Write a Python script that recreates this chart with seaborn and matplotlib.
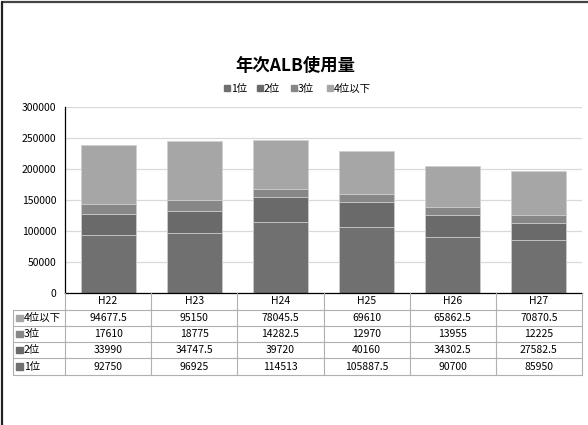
import matplotlib
matplotlib.use('Agg')
import matplotlib.pyplot as plt
from matplotlib.lines import Line2D
from matplotlib.patches import Rectangle
import seaborn as sns
import pandas as pd
import numpy as np

years = ["H22", "H23", "H24", "H25", "H26", "H27"]
rank1 = [92750, 96925, 114513, 105887.5, 90700, 85950]
rank2 = [33990, 34747.5, 39720, 40160, 34302.5, 27582.5]
rank3 = [17610, 18775, 14282.5, 12970, 13955, 12225]
rank4 = [94677.5, 95150, 78045.5, 69610, 65862.5, 70870.5]
series_names = ["1位", "2位", "3位", "4位以下"]
colors = ["#707070", "#6a6a6a", "#878787", "#a6a6a6"]

W, H = 588, 425

sns.set_style("white")
plt.rcParams['font.family'] = ['Noto Sans CJK JP', 'DejaVu Sans']
plt.rcParams['text.color'] = 'black'
plt.rcParams['ytick.color'] = 'black'

fig = plt.figure(figsize=(W / 100, H / 100), dpi=100)

# main plot area (pixel box -> figure fraction)
x0, x1, y0, y1 = 65, 582, 107, 293
ax = fig.add_axes([x0 / W, 1 - y1 / H, (x1 - x0) / W, (y1 - y0) / H])

df = pd.DataFrame({"year": years, "1位": rank1, "2位": rank2, "3位": rank3, "4位以下": rank4})
cum = df[series_names].cumsum(axis=1)

# draw from the tallest stack down so the lower layers cover the upper ones
for name, col in reversed(list(zip(series_names, colors))):
    sns.barplot(x=df["year"], y=cum[name], color=col, width=0.64, ax=ax,
                edgecolor="#d0d0d0", linewidth=0.6, saturation=1)

ax.set_ylim(0, 300000)
ax.set_xlim(-0.5, len(years) - 0.5)
ax.set_yticks(np.arange(0, 300001, 50000))
ax.set_yticklabels([str(v) for v in range(0, 300001, 50000)], fontsize=7.5)
ax.set_xticks([])
ax.set_xlabel("")
ax.set_ylabel("")
ax.yaxis.grid(True, color="#d9d9d9", linewidth=0.9)
ax.set_axisbelow(True)
for s in ["top", "right"]:
    ax.spines[s].set_visible(False)
for s in ["left", "bottom"]:
    ax.spines[s].set_color("black")
    ax.spines[s].set_linewidth(0.9)
ax.tick_params(axis="y", length=0, pad=6)

# overlay in pixel coordinates for title, legend, table and frame
ov = fig.add_axes([0, 0, 1, 1])
ov.set_xlim(0, W)
ov.set_ylim(H, 0)
ov.axis("off")

# outer frame (top and left edges visible)
ov.add_line(Line2D([2, W], [1.5, 1.5], color="#444444", linewidth=1.6))
ov.add_line(Line2D([2, 2], [1.5, H], color="#222222", linewidth=1.6))

ov.text(295, 66, "年次ALB使用量", ha="center", va="center", fontsize=12.5, fontweight="bold")

# top legend
leg_x = [224, 257, 291, 327]
for lx, name, col in zip(leg_x, series_names, colors):
    ov.add_patch(Rectangle((lx, 85), 6, 6, color=col))
    ov.text(lx + 7, 88.5, name, ha="left", va="center", fontsize=7.5)


def fmt(v):
    return str(int(v)) if float(v).is_integer() else str(v)


# data table
col_w = (x1 - x0) / len(years)
row_y = [293, 310, 326, 342, 358, 375]
line_col = "#b0b0b0"
for yy in row_y[1:]:
    ov.add_line(Line2D([13, x1], [yy, yy], color=line_col, linewidth=0.8))
ov.add_line(Line2D([13, 13], [row_y[1], row_y[-1]], color=line_col, linewidth=0.8))
for i in range(len(years) + 1):
    xx = x0 + i * col_w
    ov.add_line(Line2D([xx, xx], [row_y[0], row_y[-1]], color=line_col, linewidth=0.8))

for i, yr in enumerate(years):
    ov.text(x0 + (i + 0.5) * col_w, (row_y[0] + row_y[1]) / 2, yr,
            ha="center", va="center", fontsize=7.5)

table_rows = [("4位以下", rank4, colors[3]), ("3位", rank3, colors[2]),
              ("2位", rank2, colors[1]), ("1位", rank1, colors[0])]
for r, (name, vals, col) in enumerate(table_rows):
    cy = (row_y[r + 1] + row_y[r + 2]) / 2
    ov.add_patch(Rectangle((16, cy - 3.5), 6.5, 6.5, color=col))
    ov.text(24, cy, name, ha="left", va="center", fontsize=7.5)
    for i, v in enumerate(vals):
        ov.text(x0 + (i + 0.5) * col_w, cy, fmt(v), ha="center", va="center", fontsize=7.5)

fig.savefig("out.png", dpi=100)
